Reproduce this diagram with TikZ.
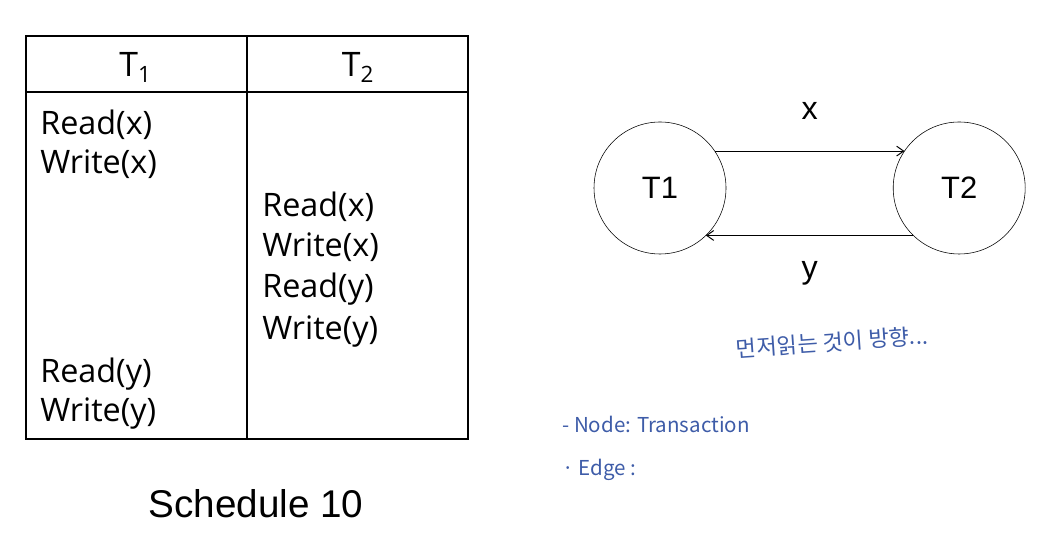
\documentclass[tikz,border=0pt]{standalone}
\usepackage{fontspec}
\setmainfont{Open Sans}
\newfontfamily\arialfont{Liberation Sans}
\newfontfamily\krfont{Noto Sans CJK KR}
\usetikzlibrary{arrows.meta}
\definecolor{pen}{RGB}{62,92,168}

\tikzset{
  cell/.style={anchor=base west,inner sep=0pt,font=\fontsize{23}{27}\selectfont},
  head/.style={anchor=base,inner sep=0pt,font=\fontsize{24}{28}\selectfont},
  txn/.style={draw,circle,minimum size=3.3cm,inner sep=0pt,outer sep=0pt,font=\arialfont\fontsize{22}{26}\selectfont},
  lbl/.style={inner sep=0pt,font=\arialfont\fontsize{23}{27}\selectfont},
  note/.style={anchor=west,inner sep=0pt,text=pen,font=\krfont\fontsize{14.6}{17}\selectfont},
  edge/.style={-{Straight Barb[length=5pt,width=7pt]},line width=0.7pt}
}

\begin{document}
\begin{tikzpicture}
            \useasboundingbox (0,0) rectangle (26.25,13.4);

            % schedule table
            \draw[line width=1.3pt] (0.64,12.5) rectangle (11.7,2.43);
            \draw[line width=1.3pt] (0.64,11.1)--(11.7,11.1);
            \draw[line width=1.3pt] (6.18,12.5)--(6.18,2.43);

            \node (h1) at (3.38,11.48)[head]{T\raisebox{-4.3pt}{\fontsize{16}{16}\selectfont 1}};
            \node (h2) at (8.94,11.48)[head]{T\raisebox{-4.3pt}{\fontsize{16}{16}\selectfont 2}};

            \node (r1x) at (1.0,10.03)[cell]{Read(x)};
            \node (w1x) at (1.0,9.05)[cell]{Write(x)};
            \node (r2x) at (6.55,7.98)[cell]{Read(x)};
            \node (w2x) at (6.55,6.98)[cell]{Write(x)};
            \node (r2y) at (6.55,5.95)[cell]{Read(y)};
            \node (w2y) at (6.55,4.9)[cell]{Write(y)};
            \node (r1y) at (1.0,3.83)[cell]{Read(y)};
            \node (w1y) at (1.0,2.86)[cell]{Write(y)};

            \node (sched) at (6.4,0.45)[anchor=base,inner sep=0pt,font=\arialfont\fontsize{27.5}{32}\selectfont]{Schedule 10};

            % precedence graph
            \node[txn] (t1) at (16.5,8.7){T1};
            \node[txn] (t2) at (23.98,8.7){T2};
            \draw[edge] (t1.34)--node[above=22pt,lbl]{x}(t2.146);
            \draw[edge] (t2.226)--node[below=17.8pt,lbl]{y}(t1.314);

            % handwritten notes
            \node (dir) at (20.8,4.85)[note,anchor=center,rotate=4,font=\krfont\fontsize{15.8}{18}\selectfont]{먼저읽는 것이 방향...};
            \node (nd) at (14.05,2.78)[note]{- Node: Transaction};
            \node (ed) at (14.05,1.65)[note]{· Edge :};
        \end{tikzpicture}
\end{document}
